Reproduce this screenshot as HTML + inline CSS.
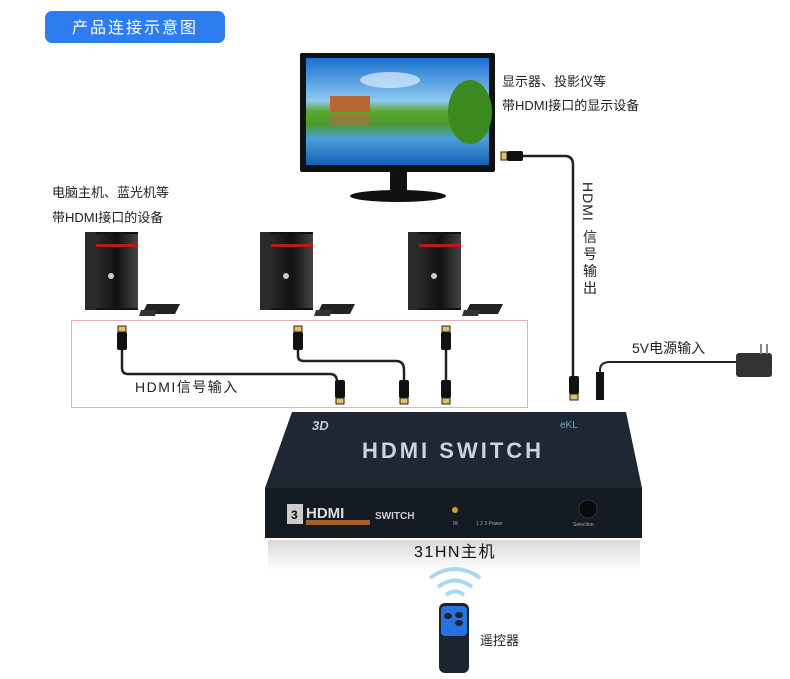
<!DOCTYPE html>
<html><head><meta charset="utf-8"><style>
html,body{margin:0;padding:0;background:#fff;}
svg{display:block;font-family:"Liberation Sans","Noto Sans CJK SC",sans-serif;}
</style></head><body>
<svg width="790" height="679" viewBox="0 0 790 679" xmlns="http://www.w3.org/2000/svg">
<defs>
<linearGradient id="sky" x1="0" y1="0" x2="0" y2="1">
<stop offset="0" stop-color="#1a6fd0"/><stop offset="0.4" stop-color="#8fcaf0"/><stop offset="0.5" stop-color="#5aa830"/><stop offset="0.62" stop-color="#4a9a30"/><stop offset="0.75" stop-color="#4aa0d8"/><stop offset="1" stop-color="#1a5fb8"/>
</linearGradient>
<linearGradient id="front" x1="0" y1="0" x2="1" y2="0">
<stop offset="0" stop-color="#2a2a2a"/><stop offset="0.5" stop-color="#111"/><stop offset="1" stop-color="#444"/>
</linearGradient>
<linearGradient id="refl" x1="0" y1="0" x2="0" y2="1">
<stop offset="0" stop-color="#d8d8d8"/><stop offset="1" stop-color="#fff"/>
</linearGradient>
<g id="pc">
<rect x="0" y="0" width="53" height="78" fill="#111"/>
<rect x="0" y="0" width="11" height="78" fill="#2a2a2a"/>
<rect x="11" y="2" width="42" height="74" fill="url(#front)"/>
<rect x="11" y="12" width="42" height="3" fill="#c01818"/>
<circle cx="26" cy="44" r="3" fill="#ccc"/>
<polygon points="62,72 95,72 90,82 57,82" fill="#222"/>
<polygon points="56,78 72,78 70,84 54,84" fill="#333"/>
</g>
<g id="conn">
<rect x="-4" y="0" width="8" height="6" fill="#e0c060" stroke="#222" stroke-width="1"/>
<rect x="-5" y="6" width="10" height="18" rx="2" fill="#111"/>
</g>
<g id="connUp">
<rect x="-5" y="0" width="10" height="18" rx="2" fill="#111"/>
<rect x="-4" y="18" width="8" height="6" fill="#e0c060" stroke="#222" stroke-width="1"/>
</g>
</defs>

<rect x="45" y="11" width="180" height="32" rx="7" fill="#2d7cf0"/>
<text x="135" y="33" font-size="16" fill="#fff" text-anchor="middle" letter-spacing="2">产品连接示意图</text>

<!-- monitor -->
<rect x="300" y="53" width="195" height="119" rx="2" fill="#111"/>
<rect x="306" y="58" width="183" height="107" fill="url(#sky)"/>
<ellipse cx="470" cy="112" rx="22" ry="32" fill="#3a8a20"/>
<ellipse cx="390" cy="80" rx="30" ry="8" fill="#dfefff" opacity="0.7"/>
<rect x="330" y="96" width="40" height="16" fill="#b86830"/>
<rect x="330" y="114" width="40" height="12" fill="#a87040" opacity="0.7"/>
<rect x="390" y="172" width="17" height="22" fill="#111"/>
<ellipse cx="398" cy="196" rx="48" ry="6" fill="#111"/>
<text x="502" y="86" font-size="13" fill="#222">显示器、投影仪等</text>
<text x="502" y="110" font-size="13" fill="#222">带HDMI接口的显示设备</text>

<!-- output cable -->
<path d="M520 156 H565 Q573 156 573 165 V378" fill="none" stroke="#222" stroke-width="2.5"/>
<rect x="501" y="152" width="6" height="8" fill="#e0c060" stroke="#222"/>
<rect x="507" y="151" width="16" height="10" rx="2" fill="#111"/>
<use href="#connUp" x="574" y="376"/>
<text font-size="14" fill="#222" transform="translate(583,182) rotate(90)" letter-spacing="1">HDMI</text>
<g font-size="14" fill="#222" text-anchor="middle">
<text x="590" y="242">信</text>
<text x="590" y="259">号</text>
<text x="590" y="276">输</text>
<text x="590" y="293">出</text>
</g>

<!-- power -->
<text x="632" y="353" font-size="14" fill="#222">5V电源输入</text>
<path d="M600 380 V370 Q600 362 610 362 H740" fill="none" stroke="#222" stroke-width="2"/>
<rect x="596" y="372" width="8" height="28" fill="#111"/>
<rect x="736" y="353" width="36" height="24" rx="3" fill="#333"/>
<rect x="760" y="344" width="2" height="10" fill="#888"/>
<rect x="766" y="344" width="2" height="10" fill="#888"/>

<!-- PCs -->
<text x="52" y="197" font-size="13" fill="#222">电脑主机、蓝光机等</text>
<text x="52" y="222" font-size="13" fill="#222">带HDMI接口的设备</text>
<use href="#pc" x="85" y="232"/>
<use href="#pc" x="260" y="232"/>
<use href="#pc" x="408" y="232"/>

<rect x="71.5" y="320.5" width="456" height="87" fill="none" stroke="#e8b0b0" stroke-width="1"/>
<path d="M122 350 V368 Q122 374 128 374 H330 Q337 374 337 382" fill="none" stroke="#222" stroke-width="2.5"/>
<path d="M298 350 V356 Q298 361 304 361 H396 Q404 361 404 370 V382" fill="none" stroke="#222" stroke-width="2.5"/>
<path d="M446 350 V382" fill="none" stroke="#222" stroke-width="2.5"/>
<use href="#conn" x="122" y="326"/>
<use href="#conn" x="298" y="326"/>
<use href="#conn" x="446" y="326"/>
<use href="#connUp" x="340" y="380"/>
<use href="#connUp" x="404" y="380"/>
<use href="#connUp" x="446" y="380"/>
<text x="135" y="392" font-size="14" fill="#222" letter-spacing="1.5">HDMI信号输入</text>

<!-- switch -->
<rect x="268" y="540" width="372" height="30" fill="url(#refl)"/>
<polygon points="292,412 626,412 642,488 265,488" fill="#1f2733"/>
<rect x="265" y="488" width="377" height="50" fill="#141a22"/>
<text x="453" y="458" font-size="22" font-weight="bold" fill="#c8d4e0" text-anchor="middle" letter-spacing="3">HDMI SWITCH</text>
<text x="312" y="430" font-size="13" font-weight="bold" font-style="italic" fill="#bcd">3D</text>
<text x="560" y="428" font-size="10" fill="#6ab">eKL</text>
<rect x="287" y="504" width="16" height="20" fill="#ccc"/>
<text x="291" y="519" font-size="12" font-weight="bold" fill="#111">3</text>
<text x="306" y="518" font-size="15" font-weight="bold" fill="#ddd">HDMI</text>
<rect x="306" y="520" width="64" height="5" fill="#a06030"/>
<text x="375" y="519" font-size="10" font-weight="bold" fill="#ccc">SWITCH</text>
<circle cx="455" cy="510" r="3" fill="#c8a020"/>
<text x="453" y="525" font-size="5" fill="#aaa">IR</text>
<text x="476" y="525" font-size="5" fill="#aaa">1   2   3   Power</text>
<circle cx="588" cy="509" r="9" fill="#0a0a0a" stroke="#333"/>
<text x="573" y="526" font-size="5" fill="#aaa">Selection</text>

<text x="455" y="557" font-size="16" fill="#111" text-anchor="middle" letter-spacing="1.5">31HN主机</text>

<!-- wifi -->
<path d="M430 578 Q455 560 480 578" fill="none" stroke="#a8d8f0" stroke-width="4"/>
<path d="M438 587 Q455 574 472 587" fill="none" stroke="#a8d8f0" stroke-width="4"/>
<path d="M446 595 Q455 588 464 595" fill="none" stroke="#a8d8f0" stroke-width="4"/>
<rect x="439" y="603" width="30" height="70" rx="6" fill="#1c2430"/>
<rect x="441" y="606" width="26" height="30" rx="4" fill="#2a70e0"/>
<ellipse cx="448" cy="616" rx="4" ry="3" fill="#1c2430"/>
<ellipse cx="459" cy="615" rx="4" ry="3" fill="#1c2430"/>
<ellipse cx="459" cy="623" rx="4" ry="3" fill="#1c2430"/>
<text x="480" y="645" font-size="13" fill="#222">遥控器</text>
</svg>
</body></html>
